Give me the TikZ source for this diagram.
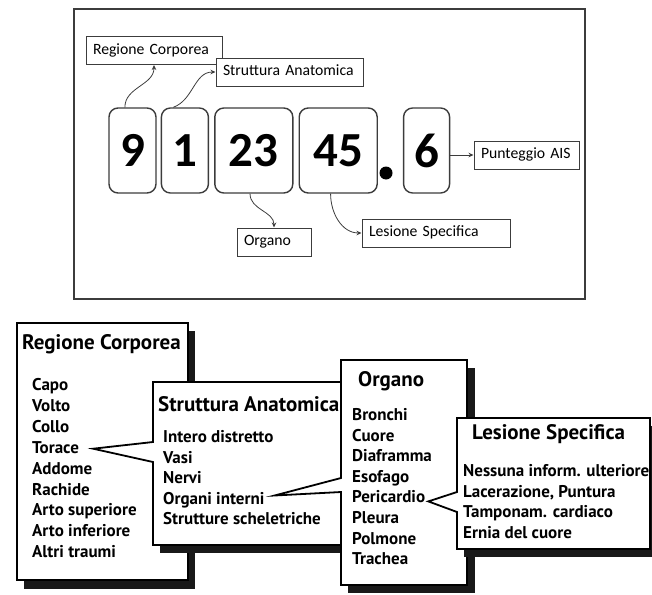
\documentclass[tikz,border=0pt]{standalone}
\usepackage{fontspec}
\newfontfamily\calfont{Carlito}
\newfontfamily\scanfont{PT Sans}
\usetikzlibrary{arrows.meta, positioning}
\definecolor{lineagrigia}{RGB}{60,60,60}

\begin{document}
\begin{tikzpicture}[x=1pt,y=-1pt,
  etichetta/.style={draw=lineagrigia, line width=1pt, fill=white, inner xsep=7pt, inner ysep=0pt,
    minimum height=28pt, align=left, text height=11pt, text depth=4pt,
    font=\calfont\fontsize{15.7}{18}\selectfont},
  cifra/.style={draw=lineagrigia, line width=1.4pt, rounded corners=9pt, minimum height=85pt,
    inner sep=0pt, font=\calfont\bfseries\fontsize{49}{50}\selectfont},
  freccia/.style={draw=lineagrigia, line width=0.8pt, -{Stealth[length=5pt,width=4.5pt]}},
  scheda/.style={draw=black, line width=1.8pt, fill=white},
  ombra/.style={fill=black!90},
  titolo/.style={inner sep=0pt, anchor=west, text height=13pt, text depth=4pt,
    font=\scanfont\bfseries\fontsize{21}{23}\selectfont},
  voce/.style={inner sep=0pt, anchor=west, text height=12pt, text depth=3pt,
    font=\scanfont\bfseries\fontsize{17}{19}\selectfont}]
  \useasboundingbox (0,0) rectangle (652,594);
  \clip (0,0) rectangle (652,594);

  % Codice AIS
  \draw[lineagrigia, line width=1.2pt] (74,9) rectangle (585,299);
  \node[cifra, minimum width=47pt] (d9) at (132.5,150.5) {9};
  \node[cifra, minimum width=47pt, right=4pt of d9] (d1) {1};
  \node[cifra, minimum width=78pt, right=5pt of d1] (d23) {23};
  \node[cifra, minimum width=78pt, right=5pt of d23] (d45) {45};
  \node[cifra, minimum width=46pt, right=25pt of d45] (d6) {6};
  \node[circle, fill=black, minimum size=13pt, inner sep=0pt] (punto) at (386,173) {};

  % Etichette
  \node[etichetta, text width=122pt] (regione) at (154,50.5) {Regione Corporea};
  \node[etichetta, text width=133pt] (struttura) at (289.5,72) {Struttura Anatomica};
  \node[etichetta, text width=60pt] (organo) at (274,242) {Organo};
  \node[etichetta, text width=134pt] (lesione) at (436,233) {Lesione Specifica};
  \node[etichetta, text width=91pt] (ais) at (526.5,155) {Punteggio AIS};

  \draw[freccia] (d9.100) to[out=90, in=-90] (regione.south);
  \draw[freccia] (d1.105) to[out=20, in=180] (struttura.west);
  \draw[freccia] (d23.265) to[out=-90, in=90] (organo.north);
  \draw[freccia] (d45.260) to[out=-90, in=180] (lesione.west);
  \draw[freccia] (ais.west -| d6.east) -- (ais.west);

  % Regione Corporea
  \fill[ombra] (24,331) rectangle (195,589);
  \draw[scheda] (17,323) rectangle (188,580);
  \node[titolo] (tregione) at (22,345) {Regione Corporea};
  \foreach \nome/\testo [count=\i from 0] in {capo/Capo, volto/Volto, collo/Collo, torace/Torace,
      addome/Addome, rachide/Rachide, artosup/Arto superiore, artoinf/Arto inferiore, altri/Altri traumi}
    \node[voce] (\nome) at (32,386+20.9*\i) {\testo};

  % Struttura Anatomica
  \fill[ombra] (160,390) rectangle (357,553);
  \draw[scheda] (153,442) |- (350,382) |- (153,545) -- (153,462)
    -- ([xshift=14pt]torace.east) -- cycle;
  \node[titolo] (tstruttura) at (158,407) {Struttura Anatomica};
  \foreach \nome/\testo [count=\i from 0] in {intero/Intero distretto, vasi/Vasi, nervi/Nervi,
      organi/Organi interni, scheletro/Strutture scheletriche}
    \node[voce] (\nome) at (163,438+20.5*\i) {\testo};

  % Organo
  \fill[ombra] (348,368) rectangle (475,593);
  \draw[scheda] (341,478) |- (467,360) |- (341,585) -- (341,492)
    -- ([shift={(10pt,4pt)}]organi.east) -- cycle;
  \node[titolo] (torgano) at (358,382) {Organo};
  \foreach \nome/\testo [count=\i from 0] in {bronchi/Bronchi, cuore/Cuore, diaframma/Diaframma,
      esofago/Esofago, pericardio/Pericardio, pleura/Pleura, polmone/Polmone, trachea/Trachea}
    \node[voce] (\nome) at (352,416+20.6*\i) {\testo};

  % Lesione Specifica
  \fill[ombra] (464,426) rectangle (660,557);
  \draw[scheda] (457,492) |- (650,418) |- (457,549) -- (457,512)
    -- ([shift={(3pt,-3pt)}]pericardio.east) -- cycle;
  \node[titolo] (tlesione) at (472,435) {Lesione Specifica};
  \foreach \nome/\testo [count=\i from 0] in {nessuna/Nessuna inform. ulteriore,
      lacerazione/{Lacerazione, Puntura}, tamponam/Tamponam. cardiaco, ernia/Ernia del cuore}
    \node[voce] (\nome) at (463,472+20.7*\i) {\testo};
\end{tikzpicture}
\end{document}
